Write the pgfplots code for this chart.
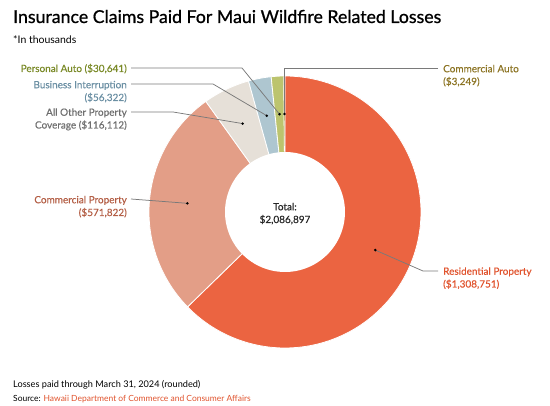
\documentclass[border=0pt]{standalone}
\usepackage{pgfplots}
\pgfplotsset{compat=1.18}
\usepackage{pgfplotstable}
\usepackage{fontspec}
\setmainfont{Lato}
\newfontfamily\titlefont{Lato}[FakeBold=0.8]
\newfontfamily\labelfont{Lato}[FakeBold=0.35]

\definecolor{cRes}{HTML}{EB6441}
\definecolor{cCom}{HTML}{E39E87}
\definecolor{cOth}{HTML}{E6E0D8}
\definecolor{cBus}{HTML}{AEC6D0}
\definecolor{cPer}{HTML}{BCC46E}
\definecolor{cCau}{HTML}{A08E3C}
\definecolor{tRes}{HTML}{E0532D}
\definecolor{tCom}{HTML}{B35E45}
\definecolor{tOth}{HTML}{6E6E6E}
\definecolor{tBus}{HTML}{6B8FA3}
\definecolor{tPer}{HTML}{7A8A28}
\definecolor{tCau}{HTML}{8C7424}
\definecolor{lead}{HTML}{7A7A7A}

% claims paid, in thousands of dollars
\pgfplotstableread{
slice value
Residential 1308751
CommercialProperty 571822
AllOther 116112
Business 56322
PersonalAuto 30641
CommercialAuto 3249
}\claims

% slice angles, clockwise from the top
\pgfplotstablegetelem{0}{value}\of\claims\let\vA\pgfplotsretval
\pgfplotstablegetelem{1}{value}\of\claims\let\vB\pgfplotsretval
\pgfplotstablegetelem{2}{value}\of\claims\let\vC\pgfplotsretval
\pgfplotstablegetelem{3}{value}\of\claims\let\vD\pgfplotsretval
\pgfplotstablegetelem{4}{value}\of\claims\let\vE\pgfplotsretval
\pgfplotstablegetelem{5}{value}\of\claims\let\vF\pgfplotsretval
\pgfkeys{/pgf/fpu=true,/pgf/fpu/output format=fixed}
\pgfmathsetmacro\total{\vA+\vB+\vC+\vD+\vE+\vF}
\pgfmathsetmacro\aA{90-360*\vA/\total}
\pgfmathsetmacro\aB{\aA-360*\vB/\total}
\pgfmathsetmacro\aC{\aB-360*\vC/\total}
\pgfmathsetmacro\aD{\aC-360*\vD/\total}
\pgfmathsetmacro\aE{\aD-360*\vE/\total}
\pgfmathsetmacro\aF{\aE-360*\vF/\total}
\pgfmathsetmacro\mA{(90+\aA)/2}
\pgfmathsetmacro\mB{(\aA+\aB)/2}
\pgfmathsetmacro\mC{(\aB+\aC)/2}
\pgfmathsetmacro\mD{(\aC+\aD)/2}
\pgfmathsetmacro\mE{(\aD+\aE)/2}
\pgfmathsetmacro\mF{(\aE+\aF)/2}
\pgfkeys{/pgf/fpu=false}
\newcommand\dotat[1]{(axis cs:{285+98*cos(#1)},{-212+98*sin(#1)})}

\begin{document}
\begin{tikzpicture}
  \path[use as bounding box] (0,0) rectangle (550bp,406bp);
  \begin{axis}[
    at={(0,0)}, anchor=south west,
    scale only axis, width=550bp, height=406bp,
    xmin=0, xmax=550, ymin=-406, ymax=0,
    enlargelimits=false, hide axis, clip=false,
    every axis plot/.append style={draw=white, line width=0.8pt, samples=120},
  ]
    \addplot[fill=cRes, domain=\aA:90] ({285+136*cos(x)},{-212+136*sin(x)}) -- (axis cs:285,-212) -- cycle;
    \addplot[fill=cCom, domain=\aB:\aA] ({285+136*cos(x)},{-212+136*sin(x)}) -- (axis cs:285,-212) -- cycle;
    \addplot[fill=cOth, domain=\aC:\aB] ({285+136*cos(x)},{-212+136*sin(x)}) -- (axis cs:285,-212) -- cycle;
    \addplot[fill=cBus, domain=\aD:\aC] ({285+136*cos(x)},{-212+136*sin(x)}) -- (axis cs:285,-212) -- cycle;
    \addplot[fill=cPer, domain=\aE:\aD] ({285+136*cos(x)},{-212+136*sin(x)}) -- (axis cs:285,-212) -- cycle;
    \addplot[fill=cCau, line width=0.3pt, domain=\aF:\aE, samples=3] ({285+136*cos(x)},{-212+136*sin(x)}) -- (axis cs:285,-212) -- cycle;
    \addplot[fill=white, draw=none, domain=0:360] ({285+60*cos(x)},{-212+60*sin(x)});

    % leader lines and dots
    \begin{scope}[draw=lead, line width=0.75pt]
      \draw (axis cs:438,-271) -- (axis cs:423,-271) -- \dotat{\mA};
      \draw (axis cs:131,-199) -- \dotat{\mB};
      \draw (axis cs:131,-112) -- (axis cs:173,-112) -- \dotat{\mC};
      \draw (axis cs:131,-84) -- (axis cs:213,-84) -- \dotat{\mD};
      \draw (axis cs:131,-68) -- (axis cs:242,-68) -- \dotat{\mE};
      \draw (axis cs:438,-68) -- (axis cs:{285+98*cos(\mF)},-68) -- \dotat{\mF};
    \end{scope}
    \fill[black] \dotat{\mA} circle[radius=1.4bp];
    \fill[black] \dotat{\mB} circle[radius=1.4bp];
    \fill[black] \dotat{\mC} circle[radius=1.4bp];
    \fill[black] \dotat{\mD} circle[radius=1.4bp];
    \fill[black] \dotat{\mE} circle[radius=1.4bp];
    \fill[black] \dotat{\mF} circle[radius=1.4bp];

    % texts (base anchor of a two-line node is its last line)
    \node[anchor=base west, inner sep=0pt, font=\titlefont\fontsize{17.8}{20}\selectfont] at (axis cs:13,-23) {Insurance Claims Paid For Maui Wildfire Related Losses};
    \node[anchor=base west, inner sep=0pt, font=\fontsize{10.5}{12}\selectfont] at (axis cs:13,-44) {*In thousands};
    \begin{scope}[every node/.style={inner sep=0pt, font=\labelfont\fontsize{10}{12.8}\selectfont}]
      \node[anchor=base east, text=tPer] at (axis cs:127,-72) {Personal Auto (\$30,641)};
      \node[anchor=base east, text=tBus, align=right] at (axis cs:127,-101) {Business Interruption\\(\$56,322)};
      \node[anchor=base east, text=tOth, align=right] at (axis cs:127,-128.5) {All Other Property\\Coverage (\$116,112)};
      \node[anchor=base east, text=tCom, align=right] at (axis cs:127,-216) {Commercial Property\\(\$571,822)};
      \node[anchor=base west, text=tRes, align=left] at (axis cs:443,-287.5) {Residential Property\\(\$1,308,751)};
      \node[anchor=base west, text=tCau, align=left] at (axis cs:443,-85) {Commercial Auto\\(\$3,249)};
      \node[anchor=base, text=black!85, align=center] at (axis cs:285,-223) {Total:\\\$2,086,897};
    \end{scope}
    \node[anchor=base west, inner sep=0pt, font=\fontsize{9.2}{12}\selectfont] at (axis cs:13,-387) {Losses paid through March 31, 2024 (rounded)};
    \node[anchor=base west, inner sep=0pt, font=\fontsize{8.5}{12}\selectfont] at (axis cs:13,-401) {Source: \textcolor{tRes}{Hawaii Department of Commerce and Consumer Affairs}};
  \end{axis}
\end{tikzpicture}
\end{document}
